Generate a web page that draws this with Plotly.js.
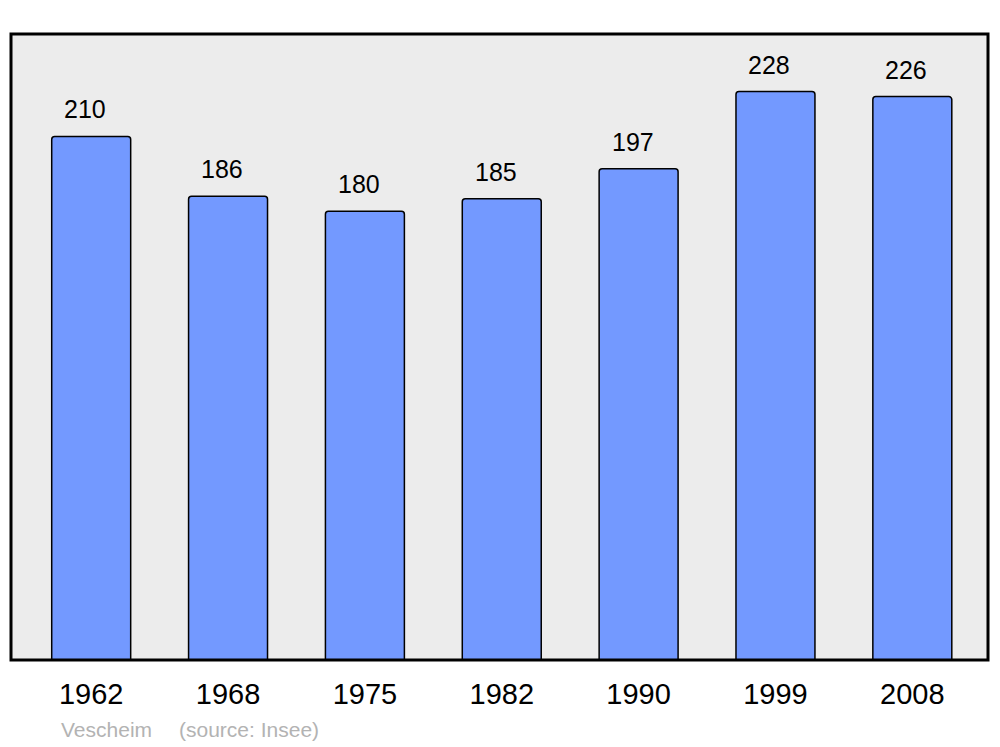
<!DOCTYPE html>
<html><head><meta charset="utf-8">
<script src="https://cdn.plot.ly/plotly-3.0.1.min.js"></script>
<style>body{margin:0;padding:0;background:#fff}#chart{width:1000px;height:747px}</style>
</head><body><div id="chart"></div>
<script>
const years = ["1962","1968","1975","1982","1990","1999","2008"];
const population = [210,186,180,185,197,228,226];
const townName = "Vescheim";
const sourceText = "(source: Insee)";

const trace = {
  type: "bar",
  x: years,
  y: population,
  width: 0.577,
  marker: {color: "#7399ff", line: {color: "#000", width: 1.5}, cornerradius: 3},
  hoverinfo: "none"
};

const annotations = years.map((yr, i) => ({
  x: i, y: population[i], xref: "x", yref: "y",
  text: String(population[i]), showarrow: false,
  yanchor: "bottom", xanchor: "center", xshift: -6, yshift: 11,
  font: {family: "Liberation Sans, Arial, sans-serif", size: 25, color: "#000"}
}));
annotations.push({
  xref: "paper", yref: "paper", x: 48/977, y: -70/626.5, xanchor: "left", yanchor: "middle",
  text: townName, showarrow: false,
  font: {family: "Liberation Sans, Arial, sans-serif", size: 21, color: "#b3b3b3"}
});
annotations.push({
  xref: "paper", yref: "paper", x: 166/977, y: -70/626.5, xanchor: "left", yanchor: "middle",
  text: sourceText, showarrow: false,
  font: {family: "Liberation Sans, Arial, sans-serif", size: 21, color: "#b3b3b3"}
});

const layout = {
  width: 1000, height: 747,
  margin: {l: 11, r: 12, t: 33.5, b: 87, pad: 0},
  paper_bgcolor: "#fff",
  plot_bgcolor: "#ececec",
  showlegend: false,
  xaxis: {
    type: "category", range: [-0.586, 6.553],
    showgrid: false, zeroline: false, showline: false, ticks: "",
    ticklabelstandoff: 14,
    tickfont: {family: "Liberation Sans, Arial, sans-serif", size: 29, color: "#000"}
  },
  yaxis: {
    range: [0, 251.1], showgrid: false, zeroline: false, showline: false,
    showticklabels: false, ticks: ""
  },
  shapes: [{
    type: "rect", xref: "paper", yref: "paper", x0: 0, x1: 1, y0: 0, y1: 1,
    line: {color: "#000", width: 3}, fillcolor: "rgba(0,0,0,0)", layer: "above"
  }],
  annotations: annotations
};

Plotly.newPlot("chart", [trace], layout, {displayModeBar: false, staticPlot: true});
</script></body></html>
